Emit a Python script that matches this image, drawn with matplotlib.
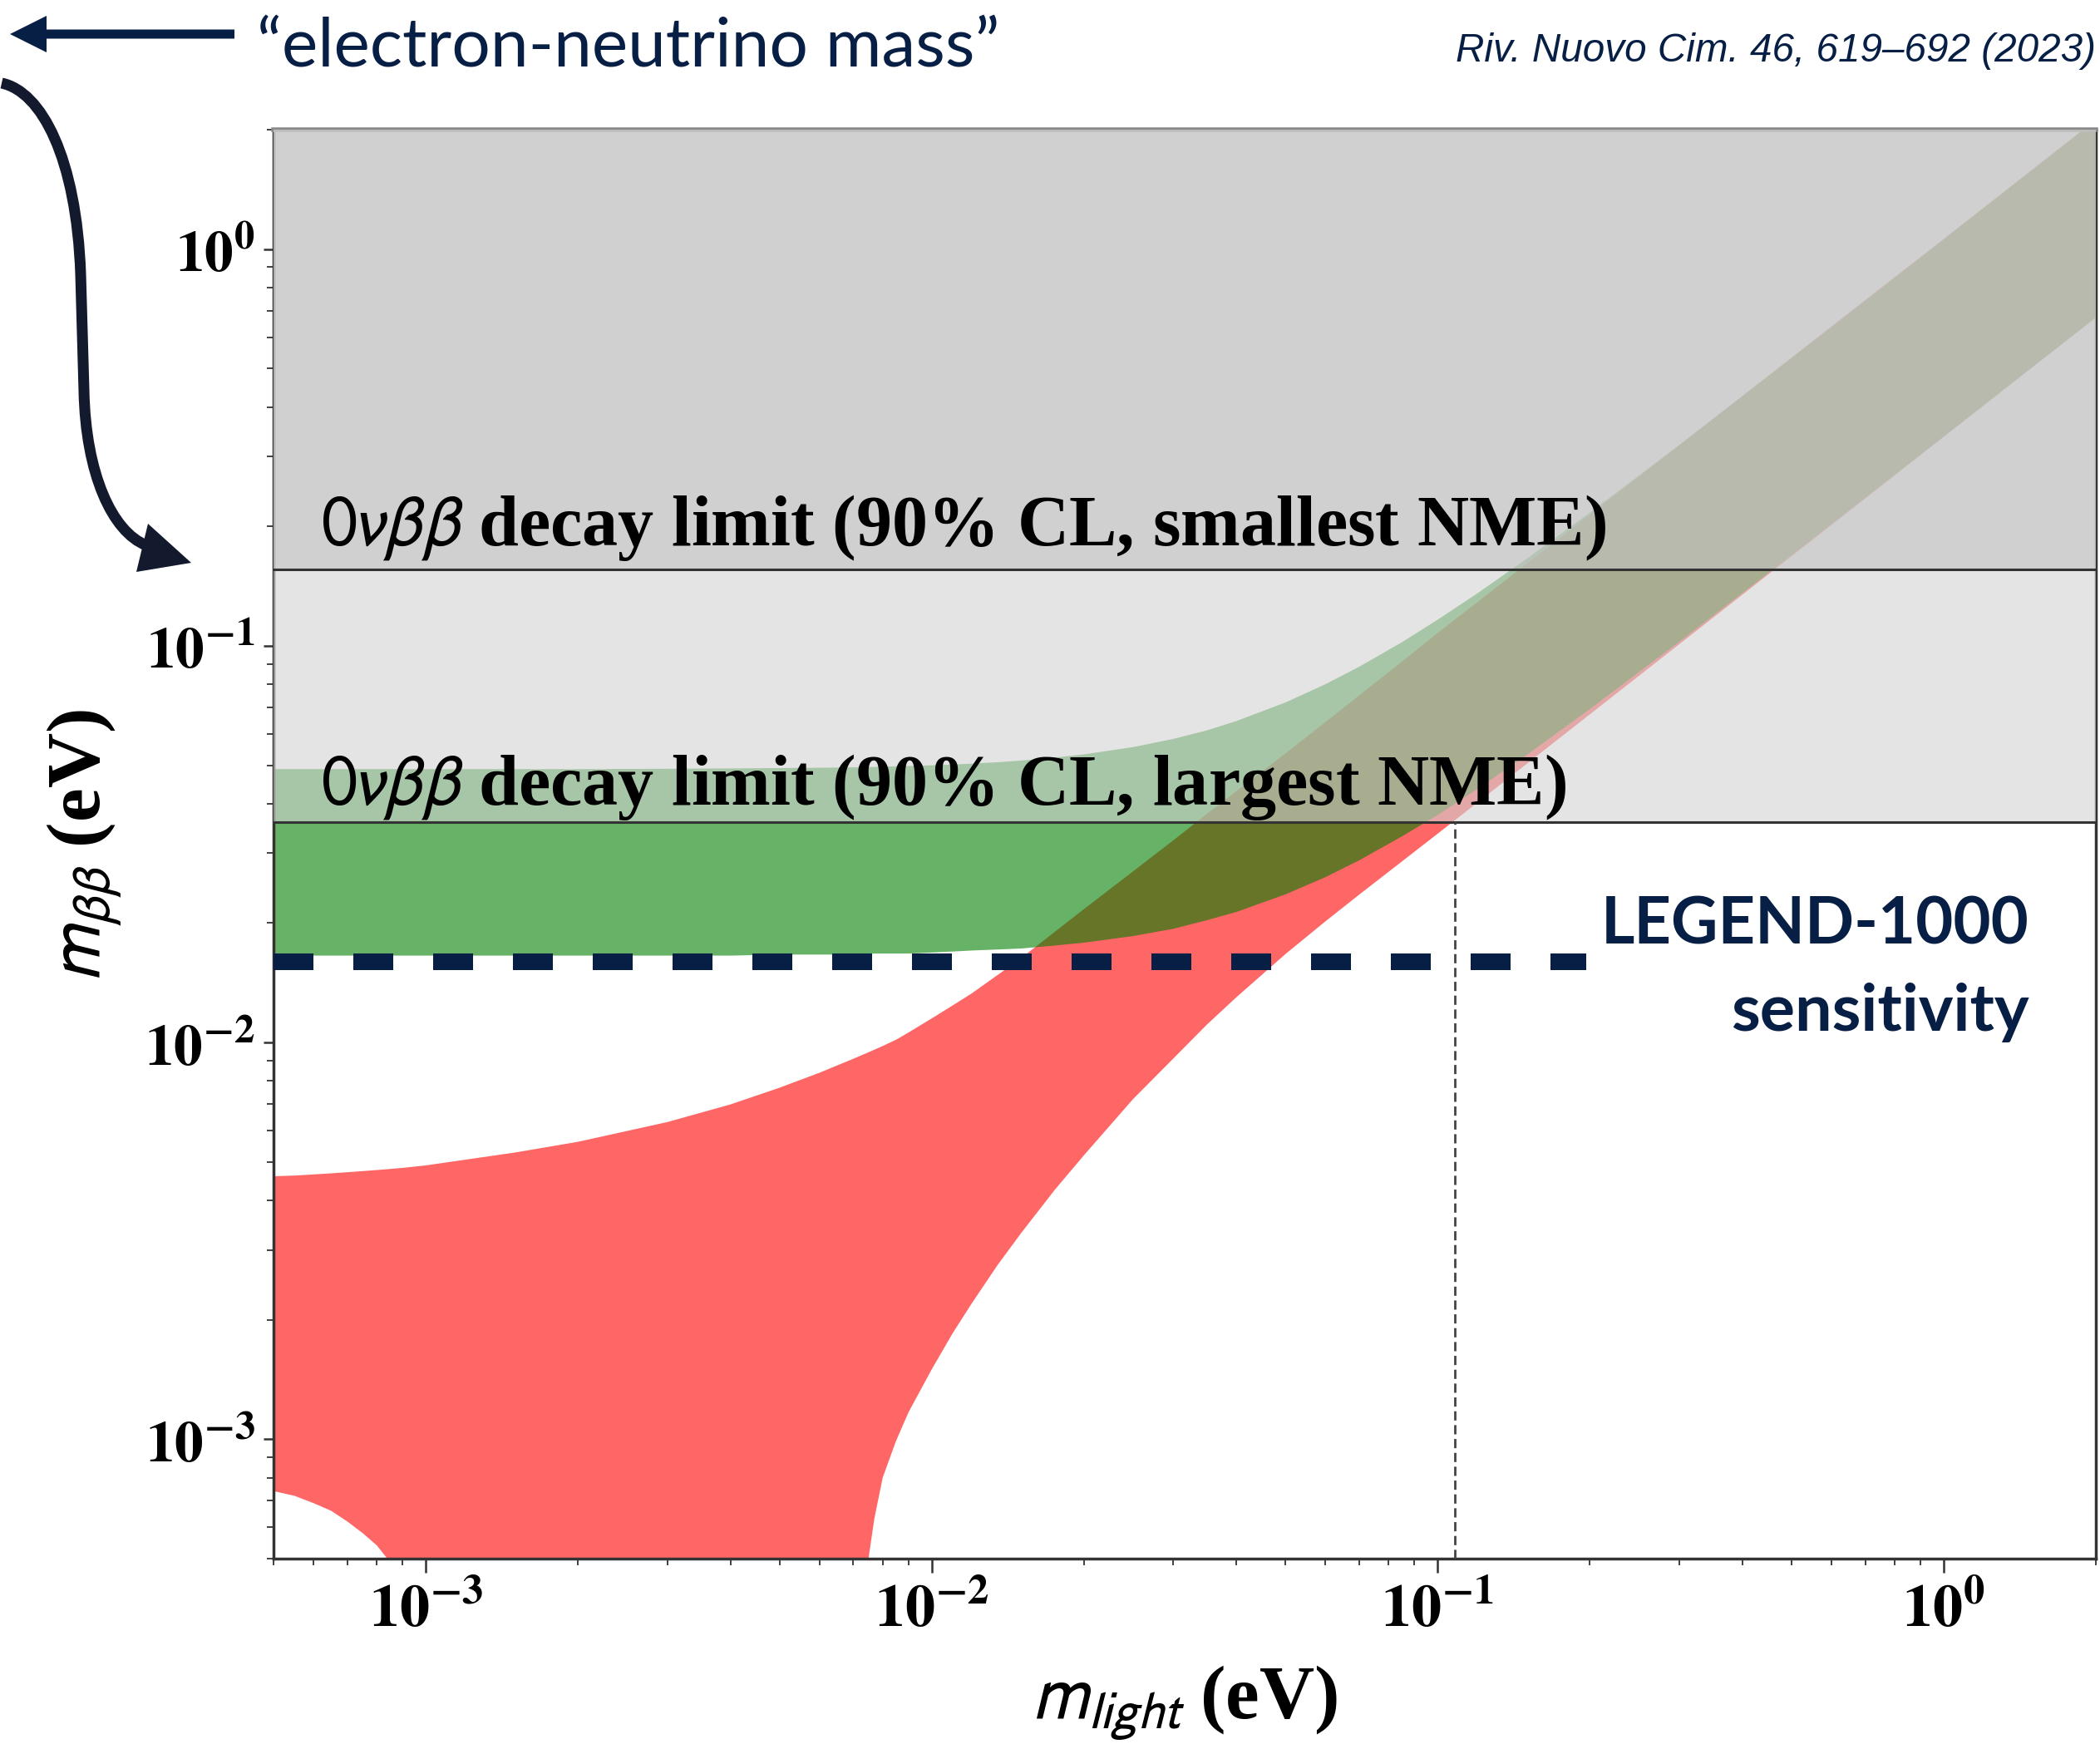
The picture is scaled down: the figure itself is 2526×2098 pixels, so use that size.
import matplotlib
matplotlib.use('Agg')
import matplotlib.pyplot as plt
from matplotlib.patches import FancyArrow, PathPatch, Polygon
from matplotlib.path import Path
from matplotlib.ticker import NullFormatter, LogLocator

# lightest neutrino mass (eV) and the m_bb band edges
m_light = [5e-4, 5.5e-4, 6e-4, 6.5e-4, 7e-4, 7.5e-4, 8e-4, 8.5e-4, 9e-4, 1e-3,
           1.5e-3, 2e-3, 3e-3, 4e-3, 5e-3, 6e-3, 7e-3, 7.3e-3, 7.5e-3, 7.7e-3,
           8e-3, 8.5e-3, 9e-3, 1e-2, 1.1e-2, 1.2e-2, 1.35e-2, 1.5e-2, 1.75e-2, 2e-2,
           2.5e-2, 3e-2, 3.5e-2, 4e-2, 5e-2, 6e-2, 7e-2, 8.5e-2, 0.1, 0.12,
           0.15, 0.2, 0.3, 0.5, 0.7, 1.0, 1.5, 2.0]

# normal ordering (red)
no_lo = [7.4e-4, 7.2e-4, 6.9e-4, 6.6e-4, 6.2e-4, 5.8e-4, 5.4e-4, 4.9e-4, 4.3e-4, 3.0e-4,
         1e-5, 1e-5, 1e-5, 1e-5, 1e-5, 1e-5, 1e-5, 2.0e-4, 5.0e-4, 6.3e-4,
         8.0e-4, 9.9e-4, 1.17e-3, 1.5e-3, 1.85e-3, 2.2e-3, 2.75e-3, 3.3e-3, 4.25e-3, 5.2e-3,
         7.2e-3, 9.1e-3, 0.0111, 0.0130, 0.0167, 0.0202, 0.0236, 0.0286, 0.0336, 0.0403,
         0.0504, 0.0672, 0.1008, 0.168, 0.235, 0.336, 0.504, 0.672]
no_hi = [0.00460, 0.00462, 0.00465, 0.00468, 0.00471, 0.00474, 0.00477, 0.00480, 0.00483, 0.00490,
         0.00528, 0.00562, 0.00630, 0.00698, 0.00769, 0.00839, 0.00910, 0.00931, 0.00945, 0.00959,
         0.00980, 0.01016, 0.01060, 0.01150, 0.01240, 0.01330, 0.01480, 0.01630, 0.01900, 0.02170,
         0.0270, 0.0323, 0.0377, 0.0430, 0.0535, 0.0642, 0.0750, 0.0912, 0.1077, 0.129,
         0.161, 0.214, 0.320, 0.532, 0.744, 1.06, 1.59, 2.12]

# inverted ordering (green)
io_lo = [0.0166, 0.0166, 0.0166, 0.0166, 0.0166, 0.0166, 0.0166, 0.0166, 0.0166, 0.0166,
         0.0166, 0.0166, 0.0166, 0.0166, 0.0167, 0.0167, 0.0167, 0.0168, 0.0168, 0.0168,
         0.0168, 0.0168, 0.0168, 0.0169, 0.0170, 0.0171, 0.0172, 0.0173, 0.0176, 0.0179,
         0.0186, 0.0194, 0.0204, 0.0214, 0.0237, 0.0262, 0.0289, 0.0332, 0.0376, 0.0438,
         0.0533, 0.0696, 0.1027, 0.1698, 0.2372, 0.3384, 0.5074, 0.6762]
io_hi = [0.0490, 0.0490, 0.0490, 0.0490, 0.0490, 0.0490, 0.0490, 0.0490, 0.0490, 0.0490,
         0.0490, 0.0490, 0.0491, 0.0492, 0.0493, 0.0494, 0.0495, 0.0496, 0.0496, 0.0496,
         0.0497, 0.0498, 0.0499, 0.0501, 0.0503, 0.0506, 0.0510, 0.0515, 0.0524, 0.0534,
         0.0557, 0.0584, 0.0614, 0.0648, 0.0722, 0.0803, 0.0889, 0.1025, 0.1168, 0.1363,
         0.1664, 0.2176, 0.3217, 0.5323, 0.7436, 1.0611, 1.591, 2.12]

# 0vbb limits (largest / smallest NME) and LEGEND-1000 sensitivity
limit_largest = 0.036
limit_smallest = 0.156
m_at_limit = 0.108
legend_sens = 0.016
legend_m = [5e-4, 0.197]

x_lim = (5e-4, 2.0)
y_lim = (5e-4, 2.0)
decades = [1e-3, 1e-2, 1e-1, 1e0]
decade_labels = [r'$\mathbf{10^{-3}}$', r'$\mathbf{10^{-2}}$', r'$\mathbf{10^{-1}}$', r'$\mathbf{10^{0}}$']

navy = '#071f45'
W, H = 2526, 2098

plt.rcParams['mathtext.fontset'] = 'stix'

fig = plt.figure(figsize=(W / 100, H / 100), dpi=100)
ax = fig.add_axes([329 / W, 1 - 1875 / H, (2521 - 329) / W, (1875 - 156) / H])
ax.set_xscale('log')
ax.set_yscale('log')

# bands
ax.fill_between(m_light, no_lo, no_hi, color='red', alpha=0.6, lw=0, zorder=1)
ax.fill_between(m_light, io_lo, io_hi, color=(0, 0.5, 0), alpha=0.6, lw=0, zorder=2)

# excluded regions
ax.axhspan(limit_largest, y_lim[1] * 10, color='#d3d3d3', alpha=0.6, lw=0, zorder=3)
ax.axhspan(limit_smallest, y_lim[1] * 10, color='#c3c3c3', alpha=0.6, lw=0, zorder=3.1)
ax.axhline(limit_largest, color='#333333', lw=2.2, zorder=4)
ax.axhline(limit_smallest, color='#333333', lw=2.2, zorder=4)
ax.plot([m_at_limit, m_at_limit], [y_lim[0], limit_largest], color='#444444',
        lw=2.0, ls=(0, (4, 2)), zorder=4)

# LEGEND-1000 sensitivity
ax.plot(legend_m, [legend_sens, legend_sens], color=navy, lw=14.4,
        ls=(0, (2.4, 2.4)), solid_capstyle='butt', dash_capstyle='butt', zorder=5)

txt_kw = dict(family='Liberation Serif', weight='bold', fontsize=62,
              math_fontfamily='stixsans', va='baseline', zorder=6)
ax.text(6.2e-4, 0.1790, r'$0\nu\beta\beta$ decay limit (90% CL, smallest NME)', **txt_kw)
ax.text(6.2e-4, 0.0398, r'$0\nu\beta\beta$ decay limit (90% CL, largest NME)', **txt_kw)

ax.set_xlim(*x_lim)
ax.set_ylim(*y_lim)
ax.set_xticks(decades)
ax.set_xticklabels(decade_labels)
ax.set_yticks(decades)
ax.set_yticklabels(decade_labels)
ax.xaxis.set_minor_locator(LogLocator(base=10, subs=range(2, 10), numticks=20))
ax.yaxis.set_minor_locator(LogLocator(base=10, subs=range(2, 10), numticks=20))
ax.xaxis.set_minor_formatter(NullFormatter())
ax.yaxis.set_minor_formatter(NullFormatter())
ax.tick_params(axis='x', which='major', direction='out', length=12, width=1.8,
               labelsize=52, pad=8, color='#333333')
ax.tick_params(axis='y', which='major', direction='out', length=9, width=1.8,
               labelsize=50, pad=7, color='#333333')
ax.tick_params(which='minor', direction='out', length=6, width=1.3, color='#333333')
for s in ax.spines.values():
    s.set_color('#333333')
    s.set_linewidth(2.5)
ax.spines['top'].set_color('#8a8a8a')
ax.spines['top'].set_linewidth(4)

ax.set_xlabel(r'$m_{light}$ (eV)', family='Liberation Serif', weight='bold',
              fontsize=66, math_fontfamily='stixsans', va='center')
ax.xaxis.set_label_coords(0.5, -0.101)
ax.set_ylabel(r'$m_{\beta\beta}$ (eV)', family='Liberation Serif', weight='bold',
              fontsize=66, math_fontfamily='stixsans', va='center')
ax.yaxis.set_label_coords(-0.104, 0.4985)

# overlay in pixel coordinates for the annotations around the chart
ov = fig.add_axes([0, 0, 1, 1], zorder=5)
ov.set_xlim(0, W)
ov.set_ylim(H, 0)
ov.axis('off')
ov.patch.set_visible(False)

ov.add_patch(FancyArrow(282, 41, -270, 0, width=11, head_width=44, head_length=44,
                        length_includes_head=True, color=navy, lw=0))
ov.text(309, 80, '\u201celectron-neutrino mass\u201d', family='Lato', fontsize=59,
        color=navy, va='baseline')
ov.text(2521, 74, 'Riv. Nuovo Cim. 46, 619\u2013692 (2023)', family='Liberation Sans',
        style='italic', fontsize=34.3, color=navy, ha='right', va='baseline')

ov.text(2441, 1136, 'LEGEND-1000', family='Lato', weight='bold', fontsize=56,
        color=navy, ha='right', va='baseline')
ov.text(2441, 1240, 'sensitivity', family='Lato', weight='bold', fontsize=57,
        color=navy, ha='right', va='baseline')

curve = Path([(2, 100), (50, 110), (92, 190), (97, 330),
              (101, 470),
              (103, 570), (135, 640), (176, 656)],
             [Path.MOVETO, Path.CURVE4, Path.CURVE4, Path.CURVE4,
              Path.LINETO,
              Path.CURVE4, Path.CURVE4, Path.CURVE4])
ov.add_patch(PathPatch(curve, fill=False, lw=9.4, edgecolor='#141a2e', capstyle='butt'))
ov.add_patch(Polygon([(230, 677), (178, 630), (164, 688)], closed=True,
                     facecolor='#141a2e', edgecolor='none'))

fig.savefig('out.png', dpi=100)
